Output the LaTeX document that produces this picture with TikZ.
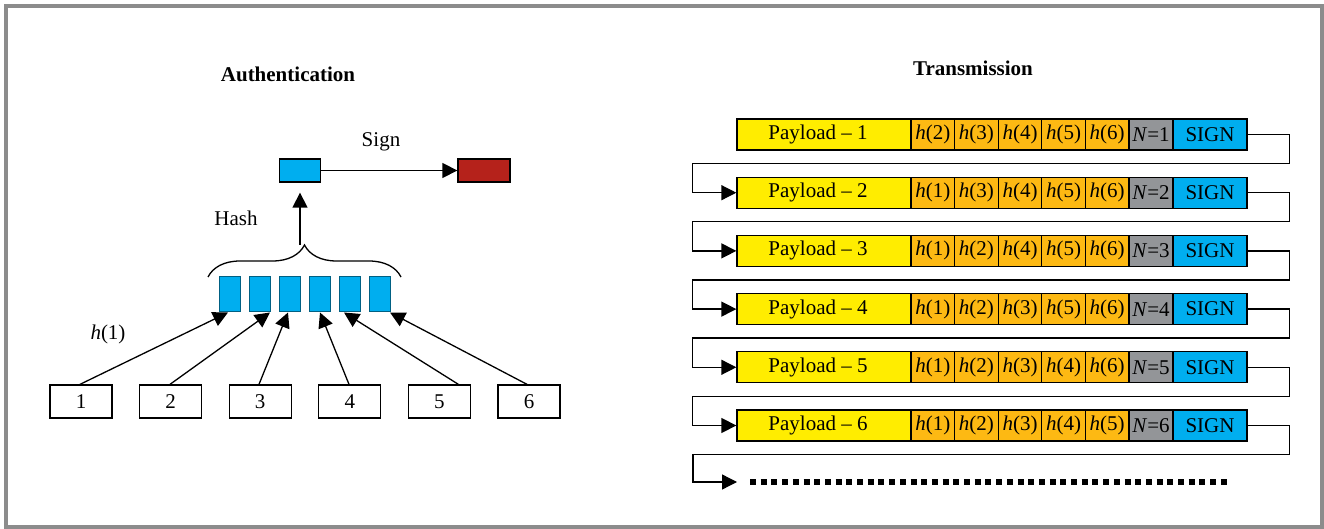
\documentclass[tikz,border=0pt]{standalone}
\usepackage{fontspec}
\setmainfont{Liberation Serif}
\usetikzlibrary{arrows.meta,decorations.pathreplacing}
\definecolor{framegray}{HTML}{8C8C8C}
\definecolor{payloadyellow}{HTML}{FFED00}
\definecolor{hashorange}{HTML}{FDB913}
\definecolor{countgray}{HTML}{939598}
\definecolor{signblue}{HTML}{00AEEF}
\definecolor{signred}{HTML}{B5221B}
\tikzstyle{every node}=[font=\fontsize{10.5}{12}\selectfont,inner sep=0pt]
\tikzstyle{cell}=[draw=black,line width=0.65pt,minimum height=15.5pt]
\tikzstyle{payload}=[cell,fill=payloadyellow,minimum width=87pt,execute at begin node=\kern-6pt]
\tikzstyle{hashcell}=[cell,fill=hashorange,minimum width=21.8pt]
\tikzstyle{countcell}=[cell,fill=countgray,minimum width=22pt]
\tikzstyle{signcell}=[cell,fill=signblue,minimum width=37pt]
\tikzstyle{packet}=[draw=black,line width=0.65pt,minimum width=31pt,minimum height=16.5pt]
\tikzstyle{hashed}=[draw=signblue!55!black,line width=0.5pt,fill=signblue,minimum width=10.5pt,minimum height=17.5pt]
\tikzstyle{link}=[line width=0.65pt,-{Triangle[length=7.5pt,width=7.5pt]}]

\begin{document}
\begin{tikzpicture}[x=0.5pt,y=-0.5pt]
  \useasboundingbox (0,0) rectangle (1324,529);
  \draw[line width=2pt,framegray] (6,6) rectangle (1321.5,526.5);

  % hashing and signing of the six packets
  \node (auth) at (288,74) {\textbf{Authentication}};
  \node[cell,fill=signblue,minimum width=20.5pt,minimum height=11.5pt] (dig) at (300,170.5) {};
  \node[cell,fill=signred,minimum width=26pt,minimum height=11.5pt] (sig) at (484,170.5) {};
  \draw[link] (dig) -- (sig);
  \node (signlbl) at (381,142) {Sign};
  \node (hashlbl) at (236,218) {Hash};
  \node (hlbl) at (108,334) {\textit{h}(1)};
  \foreach \k/\s/\e in {1/-0.5/-1, 2/-0.3/5, 3/-0.6/-1, 4/-0.4/0, 5/9.5/-3, 6/-1/5} {
    \node[hashed] (h\k) at ({230+30*(\k-1)},294.5) {};
    \node[packet] (m\k) at ({81+89.6*(\k-1)},401.5) {\k};
    \draw[link] ([xshift=\s pt]m\k.north) -- ([xshift=\e pt]h\k.south);
  }
  \draw[line width=0.65pt,decorate,decoration={brace,amplitude=16pt}] (208,277) -- (401,277);
  \coordinate (braced) at (300,245);
  \draw[link,shorten >=5pt] (braced) -- (dig);

  % transmitted packets
  \node (trans) at (973,68) {\textbf{Transmission}};
  \foreach \r in {1,...,6} {
    \node[payload] (p\r) at (824,{134.5+58.2*(\r-1)}) {Payload -- \r};
    \foreach \j in {1,...,5} {
      \pgfmathtruncatemacro\idx{\j<\r ? \j : \j+1}
      \node[hashcell] (c\r\j) at ({889.2+43.6*\j},{134.5+58.2*(\r-1)}) {\textit{h}(\idx)};
    }
    \node[countcell] (n\r) at (1151,{134.5+58.2*(\r-1)}) {\textit{N}=\r};
    \node[signcell] (s\r) at (1210,{134.5+58.2*(\r-1)}) {SIGN};
  }
  \foreach \r [evaluate=\r as \n using int(\r+1)] in {1,...,5}
    \draw[link] (s\r.east) -- ++(42,0) -- ++(0,29) -| ([xshift=-22pt]p\n.west) -- (p\n.west);
  \coordinate (more) at (737,482);
  \draw[link] (s6.east) -- ++(42,0) -- ++(0,29) -| ([xshift=-22pt]more) -- (more);
  \draw[line width=3pt,dash pattern=on 3pt off 2.35pt] ([xshift=6.5pt]more) -- (1228,482);
\end{tikzpicture}
\end{document}
